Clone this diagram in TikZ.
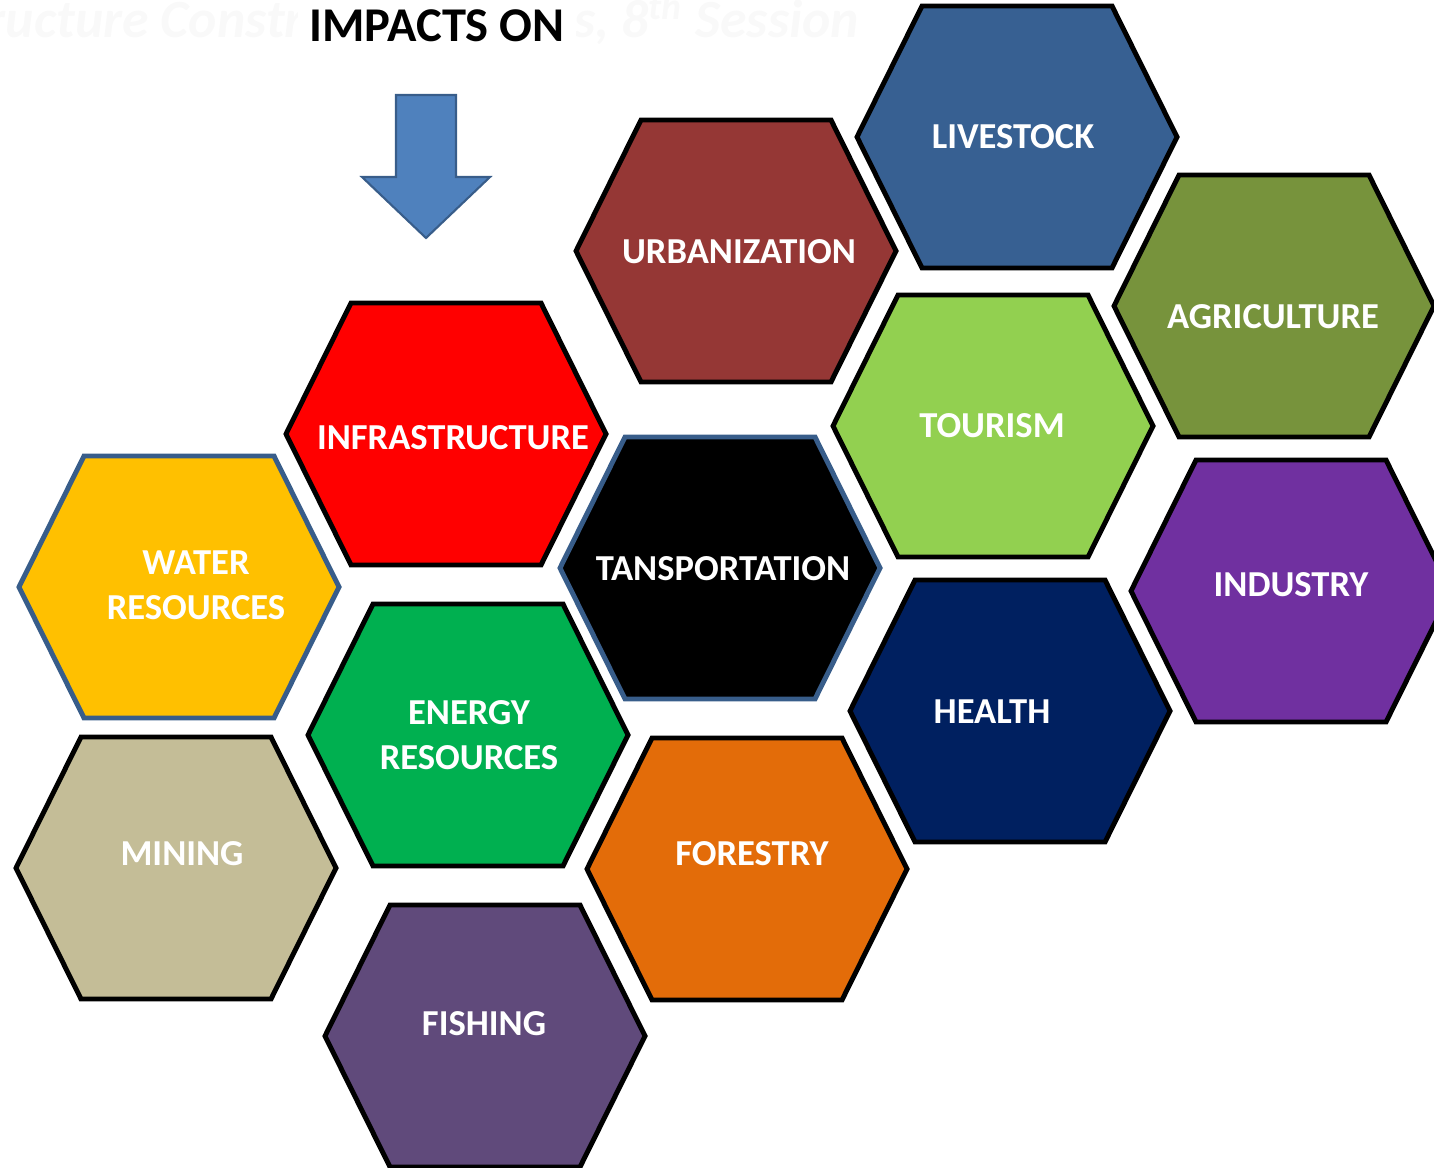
\documentclass[tikz,border=0pt]{standalone}
\usepackage{fontspec}
\setmainfont{Carlito}

% cell colours
\definecolor{colLivestock}{HTML}{376092}
\definecolor{colUrban}{HTML}{953735}
\definecolor{colAgri}{HTML}{77933C}
\definecolor{colInfra}{HTML}{FF0000}
\definecolor{colTourism}{HTML}{92D050}
\definecolor{colWater}{HTML}{FFC000}
\definecolor{colTransport}{HTML}{000000}
\definecolor{colIndustry}{HTML}{7030A0}
\definecolor{colEnergy}{HTML}{00B050}
\definecolor{colHealth}{HTML}{002060}
\definecolor{colMining}{HTML}{C4BD97}
\definecolor{colForestry}{HTML}{E36C09}
\definecolor{colFishing}{HTML}{604A7B}
\definecolor{edgeBlue}{HTML}{385D8A}
\definecolor{arrowBlue}{HTML}{4F81BD}
\definecolor{ghostGray}{HTML}{F9F9F9}

\tikzset{
    hexline/.style={line width=1.4pt, line join=miter},
    pics/hexcell/.style 2 args={code={
        \draw[hexline, draw=#2, fill=#1] (-160,0) -- (-95,-131) -- (95,-131)
            -- (160,0) -- (95,131) -- (-95,131) -- cycle;
    }},
    cellname/.style={text=white, align=center, inner sep=0pt,
        font=\bfseries\fontsize{10.4}{12.8}\selectfont},
}

\begin{document}
\begin{tikzpicture}[x=0.01cm, y=-0.01cm]
                \useasboundingbox (0,0) rectangle (1434,1167);
                \clip (0,0) rectangle (1434,1167);

                % Header
                \node[anchor=base east, text=ghostGray, inner sep=0pt,
                      font=\bfseries\itshape\fontsize{15.3}{18}\selectfont] (ghost) at (860,38)
                      {Infrastructure Construction Works, 8\textsuperscript{th} Session};
                \node[fill=white, minimum width=2.75cm, inner ysep=4pt,
                      font=\bfseries\fontsize{13.8}{16}\selectfont] (title) at (437,26) {IMPACTS ON};
                \draw[draw=edgeBlue, fill=arrowBlue, line width=0.6pt]
                    (396,95) -- (456,95) -- (456,177) -- (490,177) -- (426,238)
                    -- (362,177) -- (396,177) -- cycle;

                % Cells
                \pic at (1017,137) {hexcell={colLivestock}{black}};
                \pic at (736,251)  {hexcell={colUrban}{black}};
                \pic at (1274,306) {hexcell={colAgri}{black}};
                \pic at (446,434)  {hexcell={colInfra}{black}};
                \pic at (993,426)  {hexcell={colTourism}{black}};
                \pic at (179,587)  {hexcell={colWater}{edgeBlue}};
                \pic at (720,568)  {hexcell={colTransport}{edgeBlue}};
                \pic at (1291,591) {hexcell={colIndustry}{black}};
                \pic at (468,735)  {hexcell={colEnergy}{black}};
                \pic at (1010,711) {hexcell={colHealth}{black}};
                \pic at (176,868)  {hexcell={colMining}{black}};
                \pic at (747,869)  {hexcell={colForestry}{black}};
                \pic at (485,1036) {hexcell={colFishing}{black}};

                % Names
                \node[cellname] (livestock) at (1013,137) {LIVESTOCK};
                \node[cellname] (urban)     at (739,252)  {URBANIZATION};
                \node[cellname] (agri)      at (1273,317) {AGRICULTURE};
                \node[cellname] (infra)     at (453,438)  {INFRASTRUCTURE};
                \node[cellname] (tourism)   at (992,426)  {TOURISM};
                \node[cellname] (water)     at (196,585)  {WATER\\RESOURCES};
                \node[cellname] (transport) at (723,569)  {TANSPORTATION};
                \node[cellname] (industry)  at (1291,585) {INDUSTRY};
                \node[cellname] (energy)    at (469,735)  {ENERGY\\RESOURCES};
                \node[cellname] (health)    at (992,712)  {HEALTH};
                \node[cellname] (mining)    at (182,854)  {MINING};
                \node[cellname] (forestry)  at (752,854)  {FORESTRY};
                \node[cellname] (fishing)   at (484,1024) {FISHING};
            \end{tikzpicture}
\end{document}
